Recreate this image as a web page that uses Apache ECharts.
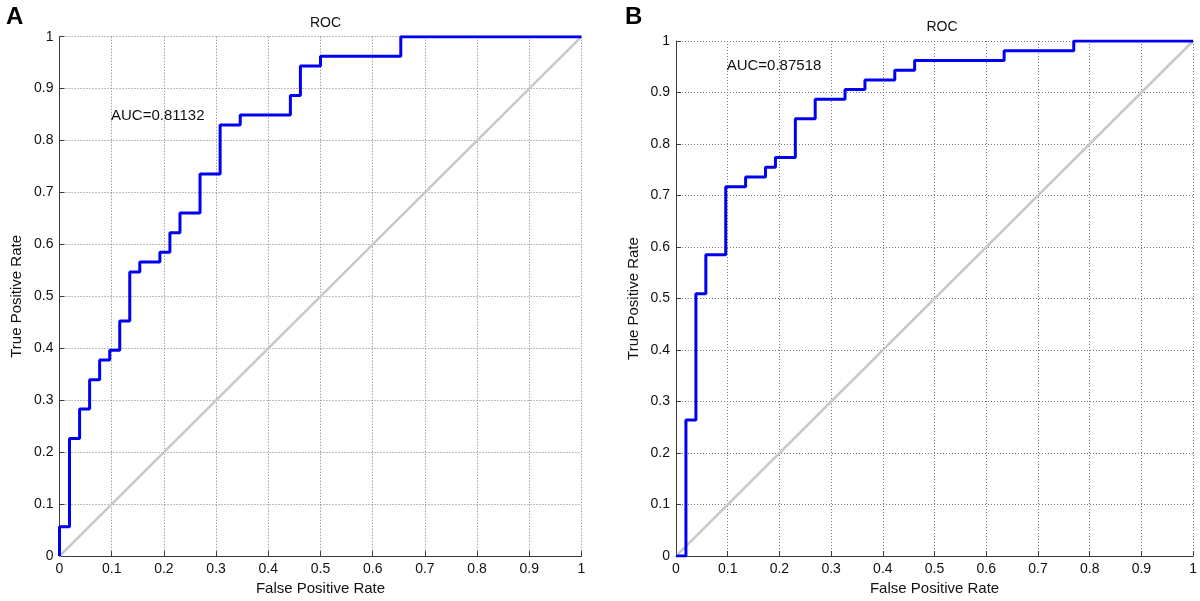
<!DOCTYPE html>
<html>
<head>
<meta charset="utf-8">
<script src="https://cdn.jsdelivr.net/npm/echarts@6/dist/echarts.min.js"></script>
<style>html,body{margin:0;padding:0;background:#fff;}#c{width:1200px;height:601px;}</style>
</head>
<body>
<div id="c"></div>
<script>
// Panel A ROC vertices
const fprA = [0,0,0.0192,0.0192,0.0385,0.0385,0.0577,0.0577,0.0769,0.0769,0.0962,0.0962,0.1154,0.1154,0.1346,0.1346,0.1538,0.1538,0.1923,0.1923,0.2115,0.2115,0.2308,0.2308,0.2692,0.2692,0.3077,0.3077,0.3462,0.3462,0.4423,0.4423,0.4615,0.4615,0.5000,0.5000,0.6538,0.6538,1];
const tprA = [0,0.0566,0.0566,0.2264,0.2264,0.2830,0.2830,0.3396,0.3396,0.3774,0.3774,0.3962,0.3962,0.4528,0.4528,0.5472,0.5472,0.5660,0.5660,0.5849,0.5849,0.6226,0.6226,0.6604,0.6604,0.7358,0.7358,0.8302,0.8302,0.8491,0.8491,0.8868,0.8868,0.9434,0.9434,0.9623,0.9623,1,1];
// Panel B ROC vertices
const fprB = [0,0.0192,0.0192,0.0385,0.0385,0.0577,0.0577,0.0962,0.0962,0.1346,0.1346,0.1731,0.1731,0.1923,0.1923,0.2308,0.2308,0.2692,0.2692,0.3269,0.3269,0.3654,0.3654,0.4231,0.4231,0.4615,0.4615,0.6346,0.6346,0.7692,0.7692,1];
const tprB = [0,0,0.2642,0.2642,0.5094,0.5094,0.5849,0.5849,0.7170,0.7170,0.7358,0.7358,0.7547,0.7547,0.7736,0.7736,0.8491,0.8491,0.8868,0.8868,0.9057,0.9057,0.9245,0.9245,0.9434,0.9434,0.9623,0.9623,0.9811,0.9811,1,1];
const diagX = [0, 1];
const diagY = [0, 1];
const aucA = '0.81132';
const aucB = '0.87518';
const aucPosA = [0.0987, 0.848];
const aucPosB = [0.098, 0.952];
const tickLabels = ['0','0.1','0.2','0.3','0.4','0.5','0.6','0.7','0.8','0.9','1'];
const panelLetters = ['A', 'B'];
const panelTitle = 'ROC';
const xName = 'False Positive Rate';
const yName = 'True Positive Rate';

const FONT = '"Liberation Sans", Arial, sans-serif';
const axisCol = '#3a3a3a';
const zip = (a, b) => a.map((v, i) => [v, b[i]]);
const fmt = v => { const s = tickLabels[Math.round(v * 10)]; return s === undefined ? '' : s; };

function xAxis(gi) {
  return {
    type: 'value', gridIndex: gi, min: 0, max: 1, interval: 0.1,
    name: xName, nameLocation: 'middle', nameGap: 23,
    nameTextStyle: { color: '#111', fontSize: 15, fontFamily: FONT },
    axisLine: { show: true, onZero: false, lineStyle: { color: axisCol, width: 1 } },
    axisTick: { show: true, inside: true, length: 5, lineStyle: { color: axisCol } },
    axisLabel: { color: '#111', fontSize: 14, fontFamily: FONT, margin: 6, formatter: fmt },
    splitLine: { show: true, lineStyle: { color: '#7a7a7a', type: [1, 2], width: 1 } }
  };
}
function yAxis(gi) {
  return {
    type: 'value', gridIndex: gi, min: 0, max: 1, interval: 0.1,
    name: yName, nameLocation: 'middle', nameGap: 35, nameRotate: 90,
    nameTextStyle: { color: '#111', fontSize: 15, fontFamily: FONT },
    axisLine: { show: true, onZero: false, lineStyle: { color: axisCol, width: 1 } },
    axisTick: { show: true, inside: true, length: 5, lineStyle: { color: axisCol } },
    axisLabel: { color: '#111', fontSize: 14, fontFamily: FONT, margin: 6, formatter: fmt },
    splitLine: { show: true, lineStyle: { color: '#7a7a7a', type: [1, 2], width: 1 } }
  };
}
function diag(gi) {
  return {
    type: 'line', xAxisIndex: gi, yAxisIndex: gi, data: zip(diagX, diagY),
    symbol: 'none', silent: true, z: 2,
    lineStyle: { color: '#c8c8c8', width: 2.5 }
  };
}
function roc(gi, fx, ty, auc, pos) {
  return {
    type: 'line', xAxisIndex: gi, yAxisIndex: gi, data: zip(fx, ty),
    symbol: 'none', silent: true, z: 3,
    lineStyle: { color: '#0000f0', width: 3 },
    markPoint: {
      symbol: 'circle', symbolSize: 0, silent: true,
      data: [{ coord: pos }],
      label: { show: true, position: 'right', distance: 0, formatter: 'AUC=' + auc,
               color: '#111', fontSize: 15, fontFamily: FONT }
    }
  };
}

const chart = echarts.init(document.getElementById('c'), null, { renderer: 'canvas' });
chart.setOption({
  backgroundColor: '#fff',
  animation: false,
  title: [
    { text: panelLetters[0], left: 1, top: 0, textStyle: { fontSize: 24, fontWeight: 'bold', color: '#000', fontFamily: FONT } },
    { text: panelLetters[1], left: 620, top: 0, textStyle: { fontSize: 24, fontWeight: 'bold', color: '#000', fontFamily: FONT } },
    { text: panelTitle, left: 320.5, textAlign: 'center', top: 11, textStyle: { fontSize: 14, fontWeight: 'normal', color: '#111', fontFamily: FONT } },
    { text: panelTitle, left: 937, textAlign: 'center', top: 15, textStyle: { fontSize: 14, fontWeight: 'normal', color: '#111', fontFamily: FONT } }
  ],
  grid: [
    { left: 59.5, top: 36.7, width: 522, height: 520, containLabel: false },
    { left: 676, top: 41, width: 522, height: 521.5, containLabel: false }
  ],
  xAxis: [xAxis(0), xAxis(1)],
  yAxis: [yAxis(0), yAxis(1)],
  series: [
    diag(0), roc(0, fprA, tprA, aucA, aucPosA),
    diag(1), roc(1, fprB, tprB, aucB, aucPosB)
  ]
});
</script>
</body>
</html>
